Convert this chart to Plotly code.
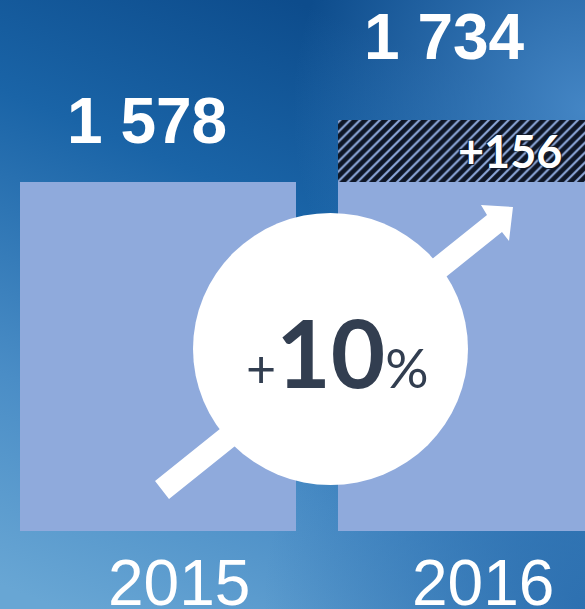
import base64
import plotly.graph_objects as go

# ---- data ----
years = ["2015", "2016"]
base_values = [1578, 1578]
increase_values = [None, 156]
totals = [1578, 1734]
value_labels = ["1 578", "1 734"]
increase_label = "+156"
growth_label = "+10%"

W, H = 585, 609
PB = 531  # plot-area bottom in px

def px(x):
    return x / W

def py(y):
    return (PB - y) / PB

# ---- gradient background (SVG data URI) ----
svg = f'''<svg xmlns="http://www.w3.org/2000/svg" width="{W}" height="{H}" viewBox="0 0 {W} {H}" preserveAspectRatio="none">
<defs>
<linearGradient id="g" x1="0.5" y1="0" x2="0.1" y2="1">
<stop offset="0" stop-color="#0d4c8c"/>
<stop offset="0.3" stop-color="#1a64a7"/>
<stop offset="0.7" stop-color="#4a8dc6"/>
<stop offset="1" stop-color="#68a6d4"/>
</linearGradient>
<radialGradient id="r1" cx="1" cy="0.18" r="0.5">
<stop offset="0" stop-color="#4a8ccb" stop-opacity="0.9"/>
<stop offset="1" stop-color="#4a8ccb" stop-opacity="0"/>
</radialGradient>
<radialGradient id="r2" cx="1" cy="1" r="0.55">
<stop offset="0" stop-color="#2a6dae" stop-opacity="0.9"/>
<stop offset="1" stop-color="#2a6dae" stop-opacity="0"/>
</radialGradient>
</defs>
<rect width="{W}" height="{H}" fill="url(#g)"/>
<rect width="{W}" height="{H}" fill="url(#r1)"/>
<rect width="{W}" height="{H}" fill="url(#r2)"/>
</svg>'''
bg_uri = "data:image/svg+xml;base64," + base64.b64encode(svg.encode()).decode()

BAR = "#8faadc"

fig = go.Figure()
fig.add_trace(go.Bar(
    x=years, y=base_values, width=0.868,
    marker=dict(color=BAR, line=dict(width=0)),
    hoverinfo="skip", showlegend=False,
))
fig.add_trace(go.Bar(
    x=years, y=increase_values, width=0.868,
    marker=dict(color=BAR, line=dict(width=0),
                pattern=dict(shape="/", fgcolor="#0e1626", bgcolor=BAR,
                             fgopacity=1, size=7, solidity=0.7)),
    hoverinfo="skip", showlegend=False,
))

# arrow polygon (decoration, pixel layout converted to paper)
arrow_pts = [(155, 481), (487, 215), (481, 205), (513, 207), (509, 241), (502, 232), (169, 499)]
path = "M " + " L ".join(f"{px(a):.4f},{py(b):.4f}" for a, b in arrow_pts) + " Z"

shapes = [
    dict(type="path", xref="paper", yref="paper", path=path,
         fillcolor="white", line=dict(width=0), layer="above"),
    dict(type="circle", xref="paper", yref="paper",
         x0=px(193), x1=px(468), y0=py(485), y1=py(213),
         fillcolor="white", line=dict(width=0), layer="above"),
]

annotations = []
# year labels (category index positions)
year_shift = [21, 7]
for i, (yr, xs) in enumerate(zip(years, year_shift)):
    annotations.append(dict(
        x=i, y=py(583), xref="x", yref="paper", text=yr, showarrow=False,
        xshift=xs, yanchor="middle",
        font=dict(family="Liberation Sans, Arial", size=64, color="white")))
# value labels
val_xshift = [-11, -31]
val_yshift = [61, 83]
for i, (tot, lab, xs, ys) in enumerate(zip(totals, value_labels, val_xshift, val_yshift)):
    annotations.append(dict(
        x=i, y=tot, xref="x", yref="y", text=f"<b>{lab}</b>", showarrow=False,
        xshift=xs, yshift=ys, yanchor="middle",
        font=dict(family="Liberation Sans, Arial", size=64, color="white")))
# increase label inside hatched segment
annotations.append(dict(
    x=1, y=base_values[1] + increase_values[1] / 2, xref="x", yref="y",
    text=f"<b>{increase_label}</b>", showarrow=False, xshift=34, yanchor="middle",
    font=dict(family="Lato, Noto Sans", size=45, color="white",
              shadow="1px 1px 1px #0e1626, -1px -1px 1px #0e1626")))
# growth label in circle
g_plus, g_num, g_pct = growth_label[0], growth_label[1:-1], growth_label[-1]
annotations.append(dict(
    x=px(337.5), y=py(351), xref="paper", yref="paper", showarrow=False,
    xanchor="center", yanchor="middle",
    text=(f'<span style="font-size:52px">{g_plus}</span>'
          f'<b>{g_num}</b>'
          f'<span style="font-size:54px">{g_pct}</span>'),
    font=dict(family="Lato, Noto Sans", size=94, color="#323e50")))

fig.update_layout(
    width=W, height=H,
    margin=dict(l=0, r=0, t=0, b=H - PB, pad=0),
    paper_bgcolor="#2a6dae", plot_bgcolor="rgba(0,0,0,0)",
    barmode="stack", bargap=0,
    xaxis=dict(type="category", range=[-0.4969, 1.3428], showticklabels=False,
               showgrid=False, zeroline=False, showline=False, ticks=""),
    yaxis=dict(range=[701, 2037], showticklabels=False, showgrid=False,
               zeroline=False, showline=False, ticks=""),
    shapes=shapes, annotations=annotations,
    images=[dict(source=bg_uri, xref="paper", yref="paper", x=0, y=1,
                 sizex=1, sizey=H / PB, xanchor="left", yanchor="top",
                 sizing="stretch", layer="below")],
    showlegend=False,
)

fig.write_html("out.html", config=dict(displayModeBar=False),
               post_script="document.body.style.margin='0';document.body.style.overflow='hidden';")
